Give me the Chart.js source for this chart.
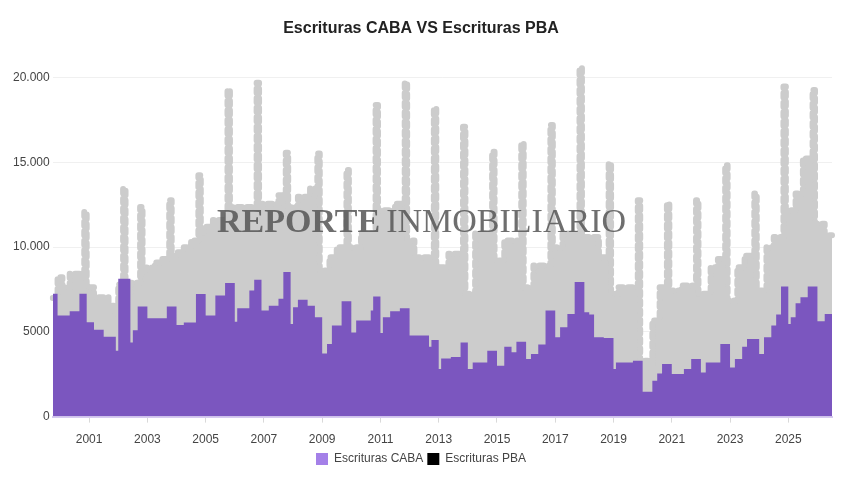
<!DOCTYPE html>
<html>
<head>
<meta charset="utf-8">
<title>Escrituras CABA VS Escrituras PBA</title>
<script src="https://cdn.jsdelivr.net/npm/chart.js@4.4.1/dist/chart.umd.min.js"></script>
<style>
    html, body { margin: 0; padding: 0; background: #fff; }
    #wrap { width: 845px; height: 478px; }
</style>
</head>
<body>
<div id="wrap"><canvas id="escriturasChart"></canvas></div>
<script>
// primer mes de la serie (octubre 1999), una fila por año
const firstYear = 1999;
const firstMonth = 10;

const cabaValues = [
    7250, 7250, 5960,
    5960, 5960, 5960, 5960, 6220, 6220, 6220, 6220, 7250, 7250, 7250, 5570,   // 2000
    5570, 5570, 5120, 5120, 5120, 5120, 4720, 4720, 4720, 4720, 4720, 3890,   // 2001
    8130, 8130, 8130, 8130, 8130, 4380, 5100, 5100, 6500, 6500, 6500, 6500,   // 2002
    5800, 5800, 5800, 5800, 5800, 5800, 5800, 5800, 6500, 6500, 6500, 6500,   // 2003
    5400, 5400, 5400, 5560, 5560, 5560, 5560, 5560, 7240, 7240, 7240, 7240,   // 2004
    5960, 5960, 5960, 5960, 7150, 7150, 7150, 7150, 7880, 7880, 7880, 7880,   // 2005
    5600, 6400, 6400, 6400, 6400, 6400, 7440, 7440, 8080, 8080, 8080, 6260,   // 2006
    6260, 6260, 6550, 6550, 6550, 6550, 6950, 6950, 8530, 8530, 8530, 5470,   // 2007
    6450, 6450, 6890, 6890, 6890, 6890, 6550, 6550, 6550, 5860, 5860, 5860,   // 2008
    3730, 3730, 4290, 4290, 5370, 5370, 5370, 5370, 6810, 6810, 6810, 6810,   // 2009
    4970, 4970, 5670, 5670, 5670, 5670, 5670, 5670, 6260, 7090, 7090, 7090,   // 2010
    4930, 5860, 5860, 5860, 6220, 6220, 6220, 6220, 6400, 6400, 6400, 6400,   // 2011
    4780, 4780, 4780, 4780, 4780, 4780, 4780, 4780, 4130, 4520, 4520, 4520,   // 2012
    2810, 3430, 3430, 3430, 3430, 3520, 3520, 3520, 3520, 4380, 4380, 4380,   // 2013
    2810, 2810, 3200, 3200, 3200, 3200, 3200, 3200, 3890, 3890, 3890, 3890,   // 2014
    3000, 3000, 3000, 4130, 4130, 4130, 3800, 3800, 4420, 4420, 4420, 4420,   // 2015
    3400, 3400, 3690, 3690, 3690, 4250, 4250, 4250, 6260, 6260, 6260, 6260,   // 2016
    4680, 4680, 5270, 5270, 5270, 6060, 6060, 6060, 7940, 7940, 7940, 7940,   // 2017
    6160, 6160, 6020, 6020, 4680, 4680, 4680, 4680, 4640, 4640, 4640, 4640,   // 2018
    2810, 3200, 3200, 3200, 3200, 3200, 3200, 3200, 3300, 3300, 3300, 3300,   // 2019
    1460, 1460, 1460, 1460, 2110, 2110, 2550, 2550, 3100, 3100, 3100, 3100,   // 2020
    2510, 2510, 2510, 2510, 2510, 2810, 2810, 2810, 3400, 3400, 3400, 3400,   // 2021
    2600, 2600, 3200, 3200, 3200, 3200, 3200, 3200, 4290, 4290, 4290, 4290,   // 2022
    2900, 2900, 3400, 3400, 3400, 4130, 4130, 4580, 4580, 4580, 4580, 4580,   // 2023
    3690, 3690, 4680, 4680, 4680, 5370, 5370, 6020, 6020, 7680, 7680, 7680,   // 2024
    5470, 5860, 5860, 6690, 6690, 7050, 7050, 7050, 7680, 7680, 7680, 7680,   // 2025
    5630, 5630, 5630, 6060, 6060, 6060, 6060                                  // 2026
];

const pbaValues = [
    7000, 7000, 8230,
    8230, 7640, 7640, 7640, 8430, 8430, 8430, 8430, 8430, 8430, 12080, 7640,       // 2000
    7640, 7640, 7050, 7050, 7050, 7050, 7050, 7050, 6550, 6550, 6550, 6060,        // 2001
    7800, 7800, 13460, 7300, 7300, 7900, 7900, 7900, 7900, 12370, 8500, 8800,      // 2002
    8800, 8800, 8800, 9100, 9100, 9100, 9300, 9300, 9300, 12770, 9500, 9500,       // 2003
    9700, 9700, 9700, 10000, 10000, 10000, 10400, 10400, 10400, 14250, 10800, 11200, // 2004
    11200, 11200, 11200, 11600, 11600, 11600, 11600, 11600, 11600, 19280, 12370, 12370, // 2005
    12370, 12370, 12370, 12370, 12370, 12370, 12370, 12370, 12370, 19710, 12570, 12570, // 2006
    12570, 12570, 12570, 12570, 12570, 12570, 13070, 13070, 13070, 15570, 12370, 12370, // 2007
    12370, 12370, 12970, 12970, 12970, 12970, 12970, 13460, 13460, 13460, 15530, 8630,  // 2008
    8630, 8630, 8630, 9410, 9410, 9410, 10000, 10000, 10000, 10000, 14550, 10000,  // 2009
    10000, 10000, 10000, 10000, 10800, 10800, 10800, 10800, 10800, 10800, 18390, 12180, // 2010
    12180, 12180, 12180, 12180, 12180, 12180, 12570, 12570, 12570, 12570, 19710, 10400, // 2011
    10400, 10400, 9410, 9410, 9410, 9410, 9410, 9410, 9410, 9410, 18200, 8820,     // 2012
    8820, 8820, 8820, 8820, 9610, 9610, 9610, 9610, 9610, 9610, 17110, 7250,       // 2013
    7250, 7250, 7250, 10800, 10800, 10800, 10800, 10800, 10800, 10800, 15630, 9220, // 2014
    9220, 9220, 9220, 10400, 10400, 10400, 10400, 10400, 10400, 10400, 16130, 7640, // 2015
    7640, 7640, 7640, 8920, 8920, 8920, 8920, 8920, 8920, 8920, 17210, 10000,      // 2016
    10000, 10000, 10000, 10800, 10800, 10800, 10800, 10800, 10800, 10800, 20570, 10600, // 2017
    10600, 10600, 10600, 10600, 10600, 10600, 9410, 9410, 9410, 9410, 14940, 7250,  // 2018
    7250, 7250, 7640, 7640, 7640, 7640, 7640, 7640, 7640, 7640, 12770, 3300,       // 2019
    1800, 3300, 3300, 2000, 5670, 5670, 5670, 7640, 7640, 7640, 12570, 7440,       // 2020
    7440, 7440, 7440, 7440, 7740, 7740, 7740, 7740, 7740, 7740, 12770, 7250,       // 2021
    7250, 7250, 7250, 7250, 8820, 8820, 8820, 9300, 9300, 9300, 14840, 6850,       // 2022
    6850, 6850, 6850, 8820, 8820, 8820, 9500, 9500, 9500, 9500, 13170, 7440,       // 2023
    7440, 7440, 7440, 10000, 10000, 10000, 10600, 10600, 10600, 10600, 19480, 12180, // 2024
    12180, 12180, 12180, 13170, 13170, 13170, 15240, 15240, 15240, 15240, 19280, 11390, // 2025
    11390, 11390, 11390, 10700, 10700, 10700, 10700                                // 2026
];

const yMax = 20800;
const yTickValues = [0, 5000, 10000, 15000, 20000];

// etiquetas mensuales "AAAA-MM"
const monthLabels = [];
for (let i = 0; i < cabaValues.length; i++) {
    const m = firstMonth - 1 + i;
    const year = firstYear + Math.floor(m / 12);
    const month = (m % 12) + 1;
    monthLabels.push(year + "-" + String(month).padStart(2, "0"));
}

Chart.defaults.font.family = "'Liberation Sans', Arial, sans-serif";
Chart.defaults.font.size = 12;
Chart.defaults.color = "#555";

const watermark = {
    id: "watermark",
    afterDatasetsDraw(chart) {
        const ctx = chart.ctx;
        const boldPart = "REPORTE";
        const plainPart = "INMOBILIARIO";
        const boldFont = "bold 34px 'Liberation Serif', 'DejaVu Serif', serif";
        const plainFont = "34px 'Liberation Serif', 'DejaVu Serif', serif";
        ctx.save();
        ctx.fillStyle = "rgba(85, 85, 85, 0.85)";
        ctx.textBaseline = "middle";
        ctx.font = boldFont;
        const wBold = ctx.measureText(boldPart).width;
        const gap = 6;
        const x = 217;
        const y = 223;
        ctx.fillText(boldPart, x, y);
        ctx.font = plainFont;
        ctx.fillText(plainPart, x + wBold + gap, y);
        ctx.restore();
    }
};

const ctx = document.getElementById("escriturasChart").getContext("2d");

new Chart(ctx, {
    type: "line",
    plugins: [watermark],
    data: {
        labels: monthLabels,
        datasets: [
            {
                label: "Escrituras CABA",
                data: cabaValues,
                stepped: true,
                pointRadius: 0,
                borderWidth: 0,
                borderColor: "#7b56bf",
                backgroundColor: "#a480e8", // color de la leyenda
                fill: { target: "origin", above: "#7b56bf" },
            },
            {
                label: "Escrituras PBA",
                data: pbaValues,
                stepped: true,
                pointRadius: 0,
                borderWidth: 6,
                borderColor: "#cccccc",
                borderDash: [4.5, 5],
                borderCapStyle: "round",
                borderJoinStyle: "round",
                backgroundColor: "#000000", // color de la leyenda
                fill: { target: "origin", above: "#cccccc" },
            },
        ],
    },
    options: {
        responsive: true,
        maintainAspectRatio: false,
        animation: false,
        locale: "es-AR",
        layout: {
            padding: { left: 10, right: 13, top: 0, bottom: 3 },
        },
        plugins: {
            title: {
                display: true,
                text: "Escrituras CABA VS Escrituras PBA",
                color: "#222",
                font: { size: 16, weight: "bold" },
                padding: { top: 19, bottom: 26 },
            },
            legend: {
                position: "bottom",
                labels: {
                    boxWidth: 12,
                    boxHeight: 12,
                    color: "#444",
                    padding: 4,
                    generateLabels(chart) {
                        const items = Chart.defaults.plugins.legend.labels.generateLabels(chart);
                        items.forEach((item) => {
                            item.lineWidth = 0;
                            item.lineDash = [];
                            item.strokeStyle = item.fillStyle;
                        });
                        return items;
                    },
                },
            },
            tooltip: { enabled: false },
        },
        scales: {
            x: {
                z: 1,
                border: { display: true, color: "#d6caf0", width: 2 },
                grid: {
                    drawOnChartArea: false,
                    drawTicks: true,
                    tickLength: 6,
                    color: "#d9d9d9",
                },
                ticks: {
                    autoSkip: false,
                    maxRotation: 0,
                    padding: 10,
                    color: "#444",
                    callback(value, index) {
                        const label = monthLabels[index];
                        const year = Number(label.slice(0, 4));
                        const month = label.slice(5);
                        if (month === "01" && year % 2 === 1) return String(year);
                        return null;
                    },
                },
                afterFit(scale) {
                    scale.height -= 8;
                },
            },
            y: {
                min: 0,
                max: yMax,
                border: { display: false },
                grid: {
                    drawTicks: false,
                    color: "rgba(0, 0, 0, 0.06)",
                },
                afterBuildTicks(scale) {
                    scale.ticks = yTickValues.map((v) => ({ value: v }));
                },
                ticks: {
                    padding: 3,
                    color: "#444",
                    // separador de miles solo desde 10.000 (como "5000" / "10.000")
                    callback(value) {
                        const n = Number(value);
                        if (n < 10000) return String(n);
                        return n.toLocaleString("es-AR");
                    },
                },
            },
        },
    },
});
</script>
</body>
</html>
